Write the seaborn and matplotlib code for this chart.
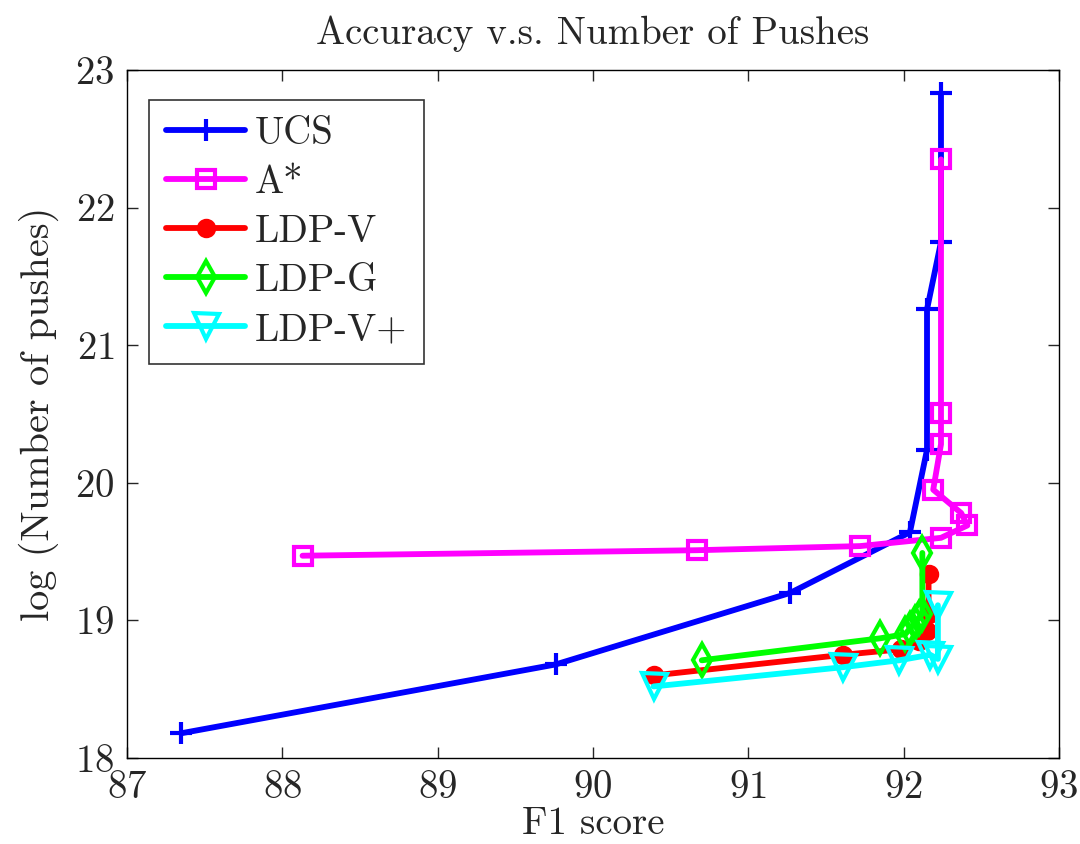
import numpy as np
import pandas as pd
import seaborn as sns
import matplotlib.pyplot as plt

# values
ucs_f1 = [87.35, 89.76, 91.27, 92.04, 92.15, 92.15, 92.24, 92.24]
ucs_push = [18.18, 18.68, 19.20, 19.64, 20.24, 21.26, 21.75, 22.83]

astar_f1 = [88.13, 90.67, 91.72, 92.24, 92.41, 92.37, 92.19, 92.24, 92.24, 92.24]
astar_push = [19.47, 19.51, 19.54, 19.60, 19.69, 19.78, 19.95, 20.28, 20.51, 22.35]

ldpv_f1 = [90.39, 91.61, 91.98, 92.10, 92.15, 92.16, 92.16]
ldpv_push = [18.60, 18.75, 18.79, 18.85, 18.92, 19.05, 19.34]

ldpg_f1 = [90.70, 91.85, 92.01, 92.04, 92.07, 92.10, 92.12, 92.12]
ldpg_push = [18.71, 18.87, 18.90, 18.94, 18.98, 19.02, 19.05, 19.49]

ldpvp_f1 = [90.39, 91.61, 91.97, 92.17, 92.22, 92.22]
ldpvp_push = [18.52, 18.66, 18.71, 18.75, 18.72, 19.11]

series = [
    ("UCS", ucs_f1, ucs_push, "#0000ff", "+", True),
    ("A*", astar_f1, astar_push, "#ff00ff", "s", False),
    ("LDP-V", ldpv_f1, ldpv_push, "#ff0000", "o", True),
    ("LDP-G", ldpg_f1, ldpg_push, "#00ff00", "d", False),
    ("LDP-V+", ldpvp_f1, ldpvp_push, "#00ffff", "v", False),
]

sns.set_style("white")
plt.rcParams['font.family'] = ['cmr10', 'DejaVu Serif']
plt.rcParams['mathtext.fontset'] = 'cm'
plt.rcParams['axes.formatter.use_mathtext'] = True

fig = plt.figure(figsize=(10.8, 8.44), dpi=100)
ax = fig.add_axes([0.1176, 0.1019, 0.8630, 0.8152])

sizes = {"+": 16, "s": 13, "o": 11, "d": 16, "v": 18}
for name, xs, ys, color, marker, filled in series:
    df = pd.DataFrame({"f1": xs, "push": ys})
    sns.lineplot(data=df, x="f1", y="push", sort=False, estimator=None, ax=ax,
                 color=color, lw=4.2, marker=marker, markersize=sizes[marker],
                 markeredgecolor=color, markeredgewidth=3,
                 markerfacecolor=color if filled else "none", label=name)

ax.set_xlim(87, 93)
ax.set_ylim(18, 23)
ax.set_xticks(np.arange(87, 94, 1))
ax.set_yticks(np.arange(18, 24, 1))
ax.tick_params(direction="in", length=8, width=1, labelsize=28, pad=9,
               top=True, right=True, bottom=True, left=True)
for sp in ax.spines.values():
    sp.set_color("black")
    sp.set_linewidth(1)

ax.set_title("Accuracy v.s. Number of Pushes", fontsize=28, pad=19)
ax.set_xlabel("F1 score", fontsize=28, labelpad=0)
ax.set_ylabel("log (Number of pushes)", fontsize=29, labelpad=12)

leg = ax.legend(loc="upper left", bbox_to_anchor=(0.024, 0.957), fontsize=28,
                frameon=True, fancybox=False, edgecolor="black",
                handlelength=2.05, borderpad=0.42, labelspacing=0.34,
                handletextpad=0.25, borderaxespad=0, numpoints=1)
leg.get_frame().set_linewidth(1.2)

fig.savefig("out.png", dpi=100)
